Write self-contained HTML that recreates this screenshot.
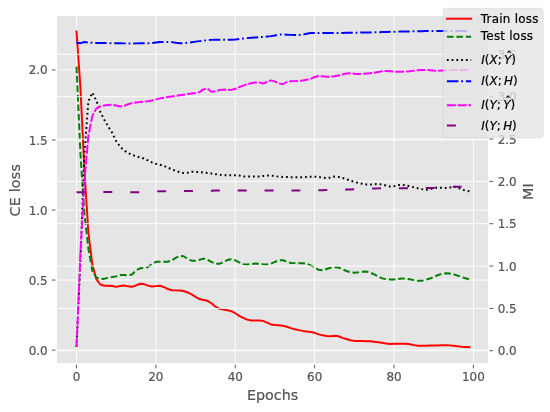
<!DOCTYPE html>
<html><head><meta charset="utf-8"><title>Chart</title>
<style>html,body{margin:0;padding:0;background:#fff;overflow:hidden;width:550px;height:412px}svg{display:block;filter:blur(0.3px)}text{stroke:#000;stroke-width:0.18px;stroke-linejoin:round}</style></head>
<body>
<svg width="550" height="412" preserveAspectRatio="none" viewBox="0 0 460.465116 344.930233" version="1.1">
 
 <defs>
  <style type="text/css">*{stroke-linejoin: round; stroke-linecap: butt}</style>
 </defs>
 <g id="figure_1">
  <g id="patch_1">
   <path d="M 0 344.930233 
L 460.465116 344.930233 
L 460.465116 0 
L 0 0 
z
" style="fill: #ffffff"/>
  </g>
  <g id="axes_1">
   <g id="patch_2">
    <path d="M 47.134884 304.702326 
L 409.227907 304.702326 
L 409.227907 12.893023 
L 47.134884 12.893023 
z
" style="fill: #e5e5e5"/>
   </g>
   <g id="matplotlib.axis_1">
    <g id="xtick_1">
     <g id="line2d_1">
      <path d="M 64.046512 304.702326 
L 64.046512 12.893023 
" clip-path="url(#p52427358c7)" style="fill: none; stroke: #ffffff; stroke-width: 0.8; stroke-linecap: square"/>
     </g>
     <g id="line2d_2">
      
      <g>
       <path d="M 0 0 L 0 3.7" transform="translate(64.046512 304.702326)" style="fill: #555555; stroke: #555555; stroke-width: 0.8"/>
      </g>
     </g>
     <g id="text_1">
      <text style="font-size: 10px; font-family: 'DejaVu Sans', 'Liberation Sans', sans-serif; text-anchor: middle; fill: #555555; stroke: #555555" x="64.046512" y="318.800763" transform="rotate(-0 64.046512 318.800763)">0</text>
     </g>
    </g>
    <g id="xtick_2">
     <g id="line2d_3">
      <path d="M 130.504186 304.702326 
L 130.504186 12.893023 
" clip-path="url(#p52427358c7)" style="fill: none; stroke: #ffffff; stroke-width: 0.8; stroke-linecap: square"/>
     </g>
     <g id="line2d_4">
      <g>
       <path d="M 0 0 L 0 3.7" transform="translate(130.504186 304.702326)" style="fill: #555555; stroke: #555555; stroke-width: 0.8"/>
      </g>
     </g>
     <g id="text_2">
      <text style="font-size: 10px; font-family: 'DejaVu Sans', 'Liberation Sans', sans-serif; text-anchor: middle; fill: #555555; stroke: #555555" x="130.504186" y="318.800763" transform="rotate(-0 130.504186 318.800763)">20</text>
     </g>
    </g>
    <g id="xtick_3">
     <g id="line2d_5">
      <path d="M 196.96186 304.702326 
L 196.96186 12.893023 
" clip-path="url(#p52427358c7)" style="fill: none; stroke: #ffffff; stroke-width: 0.8; stroke-linecap: square"/>
     </g>
     <g id="line2d_6">
      <g>
       <path d="M 0 0 L 0 3.7" transform="translate(196.96186 304.702326)" style="fill: #555555; stroke: #555555; stroke-width: 0.8"/>
      </g>
     </g>
     <g id="text_3">
      <text style="font-size: 10px; font-family: 'DejaVu Sans', 'Liberation Sans', sans-serif; text-anchor: middle; fill: #555555; stroke: #555555" x="196.96186" y="318.800763" transform="rotate(-0 196.96186 318.800763)">40</text>
     </g>
    </g>
    <g id="xtick_4">
     <g id="line2d_7">
      <path d="M 263.419535 304.702326 
L 263.419535 12.893023 
" clip-path="url(#p52427358c7)" style="fill: none; stroke: #ffffff; stroke-width: 0.8; stroke-linecap: square"/>
     </g>
     <g id="line2d_8">
      <g>
       <path d="M 0 0 L 0 3.7" transform="translate(263.419535 304.702326)" style="fill: #555555; stroke: #555555; stroke-width: 0.8"/>
      </g>
     </g>
     <g id="text_4">
      <text style="font-size: 10px; font-family: 'DejaVu Sans', 'Liberation Sans', sans-serif; text-anchor: middle; fill: #555555; stroke: #555555" x="263.419535" y="318.800763" transform="rotate(-0 263.419535 318.800763)">60</text>
     </g>
    </g>
    <g id="xtick_5">
     <g id="line2d_9">
      <path d="M 329.877209 304.702326 
L 329.877209 12.893023 
" clip-path="url(#p52427358c7)" style="fill: none; stroke: #ffffff; stroke-width: 0.8; stroke-linecap: square"/>
     </g>
     <g id="line2d_10">
      <g>
       <path d="M 0 0 L 0 3.7" transform="translate(329.877209 304.702326)" style="fill: #555555; stroke: #555555; stroke-width: 0.8"/>
      </g>
     </g>
     <g id="text_5">
      <text style="font-size: 10px; font-family: 'DejaVu Sans', 'Liberation Sans', sans-serif; text-anchor: middle; fill: #555555; stroke: #555555" x="329.877209" y="318.800763" transform="rotate(-0 329.877209 318.800763)">80</text>
     </g>
    </g>
    <g id="xtick_6">
     <g id="line2d_11">
      <path d="M 396.334884 304.702326 
L 396.334884 12.893023 
" clip-path="url(#p52427358c7)" style="fill: none; stroke: #ffffff; stroke-width: 0.8; stroke-linecap: square"/>
     </g>
     <g id="line2d_12">
      <g>
       <path d="M 0 0 L 0 3.7" transform="translate(396.334884 304.702326)" style="fill: #555555; stroke: #555555; stroke-width: 0.8"/>
      </g>
     </g>
     <g id="text_6">
      <text style="font-size: 10px; font-family: 'DejaVu Sans', 'Liberation Sans', sans-serif; text-anchor: middle; fill: #555555; stroke: #555555" x="396.334884" y="318.800763" transform="rotate(-0 396.334884 318.800763)">100</text>
     </g>
    </g>
    <g id="text_7">
     <text style="font-size: 12px; font-family: 'DejaVu Sans', 'Liberation Sans', sans-serif; text-anchor: middle; fill: #555555; stroke: #555555" x="228.181395" y="335.298576" transform="rotate(-0 228.181395 335.298576)">Epochs</text>
    </g>
   </g>
   <g id="matplotlib.axis_2">
    <g id="ytick_1">
     <g id="line2d_13">
      <path d="M 47.134884 293.106977 
L 409.227907 293.106977 
" clip-path="url(#p52427358c7)" style="fill: none; stroke: #ffffff; stroke-width: 0.8; stroke-linecap: square"/>
     </g>
     <g id="line2d_14">
      
      <g>
       <path d="M 0 0 L -3.7 0" transform="translate(47.134884 293.106977)" style="fill: #555555; stroke: #555555; stroke-width: 0.8"/>
      </g>
     </g>
     <g id="text_8">
      <text style="font-size: 10px; font-family: 'DejaVu Sans', 'Liberation Sans', sans-serif; text-anchor: end; fill: #555555; stroke: #555555" x="39.934884" y="296.906195" transform="rotate(-0 39.934884 296.906195)">0.0</text>
     </g>
    </g>
    <g id="ytick_2">
     <g id="line2d_15">
      <path d="M 47.134884 234.473023 
L 409.227907 234.473023 
" clip-path="url(#p52427358c7)" style="fill: none; stroke: #ffffff; stroke-width: 0.8; stroke-linecap: square"/>
     </g>
     <g id="line2d_16">
      <g>
       <path d="M 0 0 L -3.7 0" transform="translate(47.134884 234.473023)" style="fill: #555555; stroke: #555555; stroke-width: 0.8"/>
      </g>
     </g>
     <g id="text_9">
      <text style="font-size: 10px; font-family: 'DejaVu Sans', 'Liberation Sans', sans-serif; text-anchor: end; fill: #555555; stroke: #555555" x="39.934884" y="238.272242" transform="rotate(-0 39.934884 238.272242)">0.5</text>
     </g>
    </g>
    <g id="ytick_3">
     <g id="line2d_17">
      <path d="M 47.134884 175.83907 
L 409.227907 175.83907 
" clip-path="url(#p52427358c7)" style="fill: none; stroke: #ffffff; stroke-width: 0.8; stroke-linecap: square"/>
     </g>
     <g id="line2d_18">
      <g>
       <path d="M 0 0 L -3.7 0" transform="translate(47.134884 175.83907)" style="fill: #555555; stroke: #555555; stroke-width: 0.8"/>
      </g>
     </g>
     <g id="text_10">
      <text style="font-size: 10px; font-family: 'DejaVu Sans', 'Liberation Sans', sans-serif; text-anchor: end; fill: #555555; stroke: #555555" x="39.934884" y="179.638289" transform="rotate(-0 39.934884 179.638289)">1.0</text>
     </g>
    </g>
    <g id="ytick_4">
     <g id="line2d_19">
      <path d="M 47.134884 117.205116 
L 409.227907 117.205116 
" clip-path="url(#p52427358c7)" style="fill: none; stroke: #ffffff; stroke-width: 0.8; stroke-linecap: square"/>
     </g>
     <g id="line2d_20">
      <g>
       <path d="M 0 0 L -3.7 0" transform="translate(47.134884 117.205116)" style="fill: #555555; stroke: #555555; stroke-width: 0.8"/>
      </g>
     </g>
     <g id="text_11">
      <text style="font-size: 10px; font-family: 'DejaVu Sans', 'Liberation Sans', sans-serif; text-anchor: end; fill: #555555; stroke: #555555" x="39.934884" y="121.004335" transform="rotate(-0 39.934884 121.004335)">1.5</text>
     </g>
    </g>
    <g id="ytick_5">
     <g id="line2d_21">
      <path d="M 47.134884 58.571163 
L 409.227907 58.571163 
" clip-path="url(#p52427358c7)" style="fill: none; stroke: #ffffff; stroke-width: 0.8; stroke-linecap: square"/>
     </g>
     <g id="line2d_22">
      <g>
       <path d="M 0 0 L -3.7 0" transform="translate(47.134884 58.571163)" style="fill: #555555; stroke: #555555; stroke-width: 0.8"/>
      </g>
     </g>
     <g id="text_12">
      <text style="font-size: 10px; font-family: 'DejaVu Sans', 'Liberation Sans', sans-serif; text-anchor: end; fill: #555555; stroke: #555555" x="39.934884" y="62.370382" transform="rotate(-0 39.934884 62.370382)">2.0</text>
     </g>
    </g>
    <g id="text_13">
     <text style="font-size: 12px; font-family: 'DejaVu Sans', 'Liberation Sans', sans-serif; text-anchor: middle; fill: #555555; stroke: #555555; letter-spacing: 0.15px" x="16.836134" y="159.216279" transform="rotate(-90 16.836134 159.216279)">CE loss</text>
    </g>
   </g>
   <g id="line2d_23">
    <path d="M 64.046512 26.372093 
L 67.369395 73.616559 
L 70.692279 142.800366 
L 74.015163 194.991136 
L 77.338047 221.739343 
L 80.66093 233.764087 
L 83.983814 238.167949 
L 87.306698 239.192925 
L 90.629581 239.24081 
L 93.952465 239.508898 
L 97.275349 240.193033 
L 100.598233 239.478726 
L 103.921116 238.95644 
L 107.244 239.724233 
L 110.566884 240.14735 
L 113.889767 238.883702 
L 117.212651 237.528495 
L 120.535535 237.849665 
L 123.858419 239.101487 
L 127.181302 239.859982 
L 130.504186 239.55819 
L 133.82707 239.27881 
L 137.149953 240.262729 
L 140.472837 241.973265 
L 143.795721 242.967216 
L 147.118605 243.105623 
L 150.441488 243.205148 
L 153.764372 243.612074 
L 157.087256 244.849126 
L 160.41014 246.403627 
L 163.733023 248.584063 
L 167.055907 250.336229 
L 170.378791 251.096476 
L 173.701674 251.854395 
L 177.024558 253.888171 
L 180.347442 256.728995 
L 183.670326 258.474719 
L 186.993209 259.165414 
L 190.316093 259.683049 
L 193.638977 260.479611 
L 196.96186 262.25942 
L 200.284744 264.494017 
L 203.607628 266.159606 
L 206.930512 267.589588 
L 210.253395 268.3221 
L 213.576279 268.325581 
L 216.899163 268.325581 
L 220.222047 268.626355 
L 223.54493 270.152456 
L 226.867814 271.609579 
L 230.190698 272.074558 
L 233.513581 272.333237 
L 236.836465 272.703872 
L 240.159349 273.580834 
L 243.482233 274.750198 
L 246.805116 275.679924 
L 250.128 276.408255 
L 253.450884 277.037054 
L 256.773767 277.535733 
L 260.096651 277.930507 
L 263.419535 278.645945 
L 266.742419 279.908145 
L 270.065302 280.749985 
L 273.388186 281.338868 
L 276.71107 281.541054 
L 280.033953 281.096172 
L 283.356837 281.524905 
L 286.679721 282.825544 
L 290.002605 283.852023 
L 293.325488 284.844491 
L 296.648372 285.397891 
L 299.971256 285.497405 
L 303.29414 285.547102 
L 306.617023 285.605712 
L 309.939907 285.74899 
L 313.262791 286.072091 
L 316.585674 286.479423 
L 319.908558 286.985181 
L 323.231442 287.611814 
L 326.554326 287.916269 
L 329.877209 287.863418 
L 333.200093 287.758096 
L 336.522977 287.675216 
L 339.84586 287.765839 
L 343.168744 288.271058 
L 346.491628 288.926568 
L 349.814512 289.419079 
L 353.137395 289.497955 
L 356.460279 289.430402 
L 359.783163 289.334132 
L 363.106047 289.254189 
L 366.42893 289.190525 
L 369.751814 289.1302 
L 373.074698 289.092664 
L 376.397581 289.148949 
L 379.720465 289.463569 
L 383.043349 289.881489 
L 386.366233 290.215986 
L 389.689116 290.461112 
L 393.012 290.675613 
" clip-path="url(#p52427358c7)" style="fill: none; stroke: #ff0000; stroke-width: 1.65; stroke-linecap: square"/>
   </g>
   <g id="line2d_24">
    <path d="M 64.046512 55.674419 
L 67.369395 129.1337 
L 70.692279 179.172471 
L 74.015163 208.160651 
L 77.338047 226.932285 
L 80.66093 232.368251 
L 83.983814 233.716705 
L 87.306698 233.435835 
L 90.629581 232.347885 
L 93.952465 231.942603 
L 97.275349 231.387151 
L 100.598233 230.279394 
L 103.921116 230.222047 
L 107.244 230.434478 
L 110.566884 229.835554 
L 113.889767 226.317551 
L 117.212651 224.606513 
L 120.535535 224.409804 
L 123.858419 223.479599 
L 127.181302 220.952145 
L 130.504186 219.212671 
L 133.82707 219.181395 
L 137.149953 219.181395 
L 140.472837 219.163787 
L 143.795721 217.988329 
L 147.118605 215.921408 
L 150.441488 214.30123 
L 153.764372 214.583533 
L 157.087256 216.891401 
L 160.41014 218.270504 
L 163.733023 218.343776 
L 167.055907 217.427008 
L 170.378791 216.503033 
L 173.701674 217.3999 
L 177.024558 219.303255 
L 180.347442 220.869448 
L 183.670326 220.847517 
L 186.993209 219.392444 
L 190.316093 217.707079 
L 193.638977 217.013707 
L 196.96186 217.928486 
L 200.284744 219.638375 
L 203.607628 221.138345 
L 206.930512 221.491145 
L 210.253395 221.092223 
L 213.576279 220.664534 
L 216.899163 220.735191 
L 220.222047 221.266502 
L 223.54493 221.506872 
L 226.867814 220.667393 
L 230.190698 219.19827 
L 233.513581 217.955637 
L 236.836465 217.832818 
L 240.159349 219.159986 
L 243.482233 220.18294 
L 246.805116 220.27832 
L 250.128 220.319692 
L 253.450884 220.382584 
L 256.773767 220.774566 
L 260.096651 222.171306 
L 263.419535 223.834278 
L 266.742419 225.890458 
L 270.065302 226.248364 
L 273.388186 225.252411 
L 276.71107 224.202711 
L 280.033953 223.854182 
L 283.356837 223.943851 
L 286.679721 225.229983 
L 290.002605 226.88235 
L 293.325488 227.854345 
L 296.648372 228.305899 
L 299.971256 228.007195 
L 303.29414 227.445266 
L 306.617023 227.251946 
L 309.939907 228.256529 
L 313.262791 229.673777 
L 316.585674 231.419207 
L 319.908558 233.080884 
L 323.231442 233.711561 
L 326.554326 233.947447 
L 329.877209 233.96614 
L 333.200093 233.599939 
L 336.522977 233.214063 
L 339.84586 233.27267 
L 343.168744 233.823818 
L 346.491628 234.53892 
L 349.814512 235.076204 
L 353.137395 235.06777 
L 356.460279 234.292853 
L 359.783163 233.208833 
L 363.106047 232.026804 
L 366.42893 230.453679 
L 369.751814 229.159469 
L 373.074698 228.818169 
L 376.397581 228.956324 
L 379.720465 229.545704 
L 383.043349 230.729303 
L 386.366233 231.892885 
L 389.689116 232.929317 
L 393.012 233.98158 
" clip-path="url(#p52427358c7)" style="fill: none; stroke-dasharray: 5.55,2.4; stroke-dashoffset: 0; stroke: #008000; stroke-width: 1.65"/>
   </g>
   <g id="patch_3">
    <path d="M 47.134884 304.702326 
L 47.134884 12.893023 
" style="fill: none; stroke: #ffffff; stroke-linejoin: miter; stroke-linecap: square"/>
   </g>
   <g id="patch_4">
    <path d="M 409.227907 304.702326 
L 409.227907 12.893023 
" style="fill: none; stroke: #ffffff; stroke-linejoin: miter; stroke-linecap: square"/>
   </g>
   <g id="patch_5">
    <path d="M 47.134884 304.702326 
L 409.227907 304.702326 
" style="fill: none; stroke: #ffffff; stroke-linejoin: miter; stroke-linecap: square"/>
   </g>
   <g id="patch_6">
    <path d="M 47.134884 12.893023 
L 409.227907 12.893023 
" style="fill: none; stroke: #ffffff; stroke-linejoin: miter; stroke-linecap: square"/>
   </g>
  </g>
  <g id="axes_2">
   <g id="matplotlib.axis_3">
    <g id="ytick_6">
     <g id="line2d_25">
      <path d="M 47.134884 293.651163 
L 409.227907 293.651163 
" clip-path="url(#p52427358c7)" style="fill: none; stroke: #ffffff; stroke-width: 0.8; stroke-linecap: square"/>
     </g>
     <g id="line2d_26">
      
      <g>
       <path d="M 0 0 L 3.7 0" transform="translate(409.227907 293.651163)" style="fill: #555555; stroke: #555555; stroke-width: 0.8"/>
      </g>
     </g>
     <g id="text_14">
      <text style="font-size: 10px; font-family: 'DejaVu Sans', 'Liberation Sans', sans-serif; text-anchor: start; fill: #555555; stroke: #555555" x="416.677907" y="297.450382" transform="rotate(-0 416.677907 297.450382)">0.0</text>
     </g>
    </g>
    <g id="ytick_7">
     <g id="line2d_27">
      <path d="M 47.134884 258.199535 
L 409.227907 258.199535 
" clip-path="url(#p52427358c7)" style="fill: none; stroke: #ffffff; stroke-width: 0.8; stroke-linecap: square"/>
     </g>
     <g id="line2d_28">
      <g>
       <path d="M 0 0 L 3.7 0" transform="translate(409.227907 258.199535)" style="fill: #555555; stroke: #555555; stroke-width: 0.8"/>
      </g>
     </g>
     <g id="text_15">
      <text style="font-size: 10px; font-family: 'DejaVu Sans', 'Liberation Sans', sans-serif; text-anchor: start; fill: #555555; stroke: #555555" x="416.677907" y="261.998754" transform="rotate(-0 416.677907 261.998754)">0.5</text>
     </g>
    </g>
    <g id="ytick_8">
     <g id="line2d_29">
      <path d="M 47.134884 222.747907 
L 409.227907 222.747907 
" clip-path="url(#p52427358c7)" style="fill: none; stroke: #ffffff; stroke-width: 0.8; stroke-linecap: square"/>
     </g>
     <g id="line2d_30">
      <g>
       <path d="M 0 0 L 3.7 0" transform="translate(409.227907 222.747907)" style="fill: #555555; stroke: #555555; stroke-width: 0.8"/>
      </g>
     </g>
     <g id="text_16">
      <text style="font-size: 10px; font-family: 'DejaVu Sans', 'Liberation Sans', sans-serif; text-anchor: start; fill: #555555; stroke: #555555" x="416.677907" y="226.547126" transform="rotate(-0 416.677907 226.547126)">1.0</text>
     </g>
    </g>
    <g id="ytick_9">
     <g id="line2d_31">
      <path d="M 47.134884 187.296279 
L 409.227907 187.296279 
" clip-path="url(#p52427358c7)" style="fill: none; stroke: #ffffff; stroke-width: 0.8; stroke-linecap: square"/>
     </g>
     <g id="line2d_32">
      <g>
       <path d="M 0 0 L 3.7 0" transform="translate(409.227907 187.296279)" style="fill: #555555; stroke: #555555; stroke-width: 0.8"/>
      </g>
     </g>
     <g id="text_17">
      <text style="font-size: 10px; font-family: 'DejaVu Sans', 'Liberation Sans', sans-serif; text-anchor: start; fill: #555555; stroke: #555555" x="416.677907" y="191.095498" transform="rotate(-0 416.677907 191.095498)">1.5</text>
     </g>
    </g>
    <g id="ytick_10">
     <g id="line2d_33">
      <path d="M 47.134884 151.844651 
L 409.227907 151.844651 
" clip-path="url(#p52427358c7)" style="fill: none; stroke: #ffffff; stroke-width: 0.8; stroke-linecap: square"/>
     </g>
     <g id="line2d_34">
      <g>
       <path d="M 0 0 L 3.7 0" transform="translate(409.227907 151.844651)" style="fill: #555555; stroke: #555555; stroke-width: 0.8"/>
      </g>
     </g>
     <g id="text_18">
      <text style="font-size: 10px; font-family: 'DejaVu Sans', 'Liberation Sans', sans-serif; text-anchor: start; fill: #555555; stroke: #555555" x="416.677907" y="155.64387" transform="rotate(-0 416.677907 155.64387)">2.0</text>
     </g>
    </g>
    <g id="ytick_11">
     <g id="line2d_35">
      <path d="M 47.134884 116.393023 
L 409.227907 116.393023 
" clip-path="url(#p52427358c7)" style="fill: none; stroke: #ffffff; stroke-width: 0.8; stroke-linecap: square"/>
     </g>
     <g id="line2d_36">
      <g>
       <path d="M 0 0 L 3.7 0" transform="translate(409.227907 116.393023)" style="fill: #555555; stroke: #555555; stroke-width: 0.8"/>
      </g>
     </g>
     <g id="text_19">
      <text style="font-size: 10px; font-family: 'DejaVu Sans', 'Liberation Sans', sans-serif; text-anchor: start; fill: #555555; stroke: #555555" x="416.677907" y="120.192242" transform="rotate(-0 416.677907 120.192242)">2.5</text>
     </g>
    </g>
    <g id="ytick_12">
     <g id="line2d_37">
      <path d="M 47.134884 80.941395 
L 409.227907 80.941395 
" clip-path="url(#p52427358c7)" style="fill: none; stroke: #ffffff; stroke-width: 0.8; stroke-linecap: square"/>
     </g>
     <g id="line2d_38">
      <g>
       <path d="M 0 0 L 3.7 0" transform="translate(409.227907 80.941395)" style="fill: #555555; stroke: #555555; stroke-width: 0.8"/>
      </g>
     </g>
     <g id="text_20">
      <text style="font-size: 10px; font-family: 'DejaVu Sans', 'Liberation Sans', sans-serif; text-anchor: start; fill: #555555; stroke: #555555" x="416.677907" y="84.740614" transform="rotate(-0 416.677907 84.740614)">3.0</text>
     </g>
    </g>
    <g id="ytick_13">
     <g id="line2d_39">
      <path d="M 47.134884 45.489767 
L 409.227907 45.489767 
" clip-path="url(#p52427358c7)" style="fill: none; stroke: #ffffff; stroke-width: 0.8; stroke-linecap: square"/>
     </g>
     <g id="line2d_40">
      <g>
       <path d="M 0 0 L 3.7 0" transform="translate(409.227907 45.489767)" style="fill: #555555; stroke: #555555; stroke-width: 0.8"/>
      </g>
     </g>
     <g id="text_21">
      <text style="font-size: 10px; font-family: 'DejaVu Sans', 'Liberation Sans', sans-serif; text-anchor: start; fill: #555555; stroke: #555555" x="416.677907" y="49.288986" transform="rotate(-0 416.677907 49.288986)">3.5</text>
     </g>
    </g>
    <g id="text_22">
     <text style="font-size: 12px; font-family: 'DejaVu Sans', 'Liberation Sans', sans-serif; text-anchor: middle; fill: #555555; stroke: #555555" x="446.109157" y="160.472093" transform="rotate(-90 446.109157 160.472093)">MI</text>
    </g>
   </g>
   <g id="line2d_41">
    <path d="M 64.046512 290.511628 
L 67.369395 217.134101 
L 70.692279 128.340261 
L 74.015163 84.659926 
L 77.338047 77.536282 
L 80.66093 84.224254 
L 83.983814 93.662575 
L 87.306698 100.223313 
L 90.629581 105.944871 
L 93.952465 111.292433 
L 97.275349 118.086631 
L 100.598233 122.919017 
L 103.921116 125.938593 
L 107.244 128.081515 
L 110.566884 129.678012 
L 113.889767 130.857902 
L 117.212651 131.73055 
L 120.535535 132.704923 
L 123.858419 134.282522 
L 127.181302 136.035755 
L 130.504186 137.11169 
L 133.82707 137.926753 
L 137.149953 138.87112 
L 140.472837 140.255644 
L 143.795721 141.78455 
L 147.118605 143.000686 
L 150.441488 144.130604 
L 153.764372 144.90725 
L 157.087256 144.582231 
L 160.41014 143.835344 
L 163.733023 143.942455 
L 167.055907 144.161602 
L 170.378791 144.43322 
L 173.701674 144.777384 
L 177.024558 145.281238 
L 180.347442 145.801142 
L 183.670326 146.199221 
L 186.993209 146.565533 
L 190.316093 146.816603 
L 193.638977 146.794236 
L 196.96186 146.620855 
L 200.284744 146.937169 
L 203.607628 147.755637 
L 206.930512 147.767442 
L 210.253395 147.767442 
L 213.576279 147.767442 
L 216.899163 147.714688 
L 220.222047 147.347353 
L 223.54493 146.945792 
L 226.867814 146.908683 
L 230.190698 147.449017 
L 233.513581 147.930998 
L 236.836465 148.101695 
L 240.159349 148.244107 
L 243.482233 148.351804 
L 246.805116 148.41819 
L 250.128 148.435447 
L 253.450884 148.34227 
L 256.773767 148.169785 
L 260.096651 148.005018 
L 263.419535 147.935248 
L 266.742419 148.187948 
L 270.065302 148.676833 
L 273.388186 149.059904 
L 276.71107 148.746663 
L 280.033953 147.789328 
L 283.356837 148.106968 
L 286.679721 148.867795 
L 290.002605 150.050248 
L 293.325488 151.207992 
L 296.648372 152.233055 
L 299.971256 153.160826 
L 303.29414 153.839359 
L 306.617023 154.393477 
L 309.939907 154.527473 
L 313.262791 154.272466 
L 316.585674 154.051274 
L 319.908558 154.412782 
L 323.231442 155.341141 
L 326.554326 156.117213 
L 329.877209 155.96539 
L 333.200093 154.953593 
L 336.522977 154.701458 
L 339.84586 155.295125 
L 343.168744 155.977838 
L 346.491628 156.808887 
L 349.814512 157.640041 
L 353.137395 158.352654 
L 356.460279 158.953459 
L 359.783163 158.478212 
L 363.106047 157.341806 
L 366.42893 157.161585 
L 369.751814 157.243903 
L 373.074698 157.30916 
L 376.397581 156.980654 
L 379.720465 156.314036 
L 383.043349 156.839704 
L 386.366233 158.622794 
L 389.689116 159.54967 
L 393.012 160.151814 
" clip-path="url(#p52427358c7)" style="fill: none; stroke-dasharray: 1.5,2.475; stroke-dashoffset: 0; stroke: #000000; stroke-width: 1.65"/>
   </g>
   <g id="line2d_42">
    <path d="M 64.046512 35.832558 
L 67.369395 36.129246 
L 70.692279 35.177359 
L 74.015163 35.685424 
L 77.338047 35.839248 
L 80.66093 35.935245 
L 83.983814 36.005332 
L 87.306698 36.071992 
L 90.629581 36.135741 
L 93.952465 36.194353 
L 97.275349 36.245604 
L 100.598233 36.287267 
L 103.921116 36.317119 
L 107.244 36.332933 
L 110.566884 36.333019 
L 113.889767 36.319118 
L 117.212651 36.291968 
L 120.535535 36.251952 
L 123.858419 36.199452 
L 127.181302 36.077055 
L 130.504186 35.6552 
L 133.82707 35.242889 
L 137.149953 35.162791 
L 140.472837 35.162791 
L 143.795721 35.251685 
L 147.118605 35.824508 
L 150.441488 36.248168 
L 153.764372 36.128461 
L 157.087256 35.782932 
L 160.41014 35.318175 
L 163.733023 34.838748 
L 167.055907 34.446286 
L 170.378791 34.052803 
L 173.701674 33.657731 
L 177.024558 33.380827 
L 180.347442 33.32093 
L 183.670326 33.32093 
L 186.993209 33.32093 
L 190.316093 33.32093 
L 193.638977 33.248992 
L 196.96186 33.007994 
L 200.284744 32.661181 
L 203.607628 32.275174 
L 206.930512 31.916594 
L 210.253395 31.63176 
L 213.576279 31.380074 
L 216.899163 31.13655 
L 220.222047 30.879742 
L 223.54493 30.5882 
L 226.867814 30.240476 
L 230.190698 29.66285 
L 233.513581 28.973556 
L 236.836465 28.909229 
L 240.159349 29.034418 
L 243.482233 29.202007 
L 246.805116 29.341672 
L 250.128 29.371725 
L 253.450884 28.941101 
L 256.773767 28.235891 
L 260.096651 27.69786 
L 263.419535 27.627907 
L 266.742419 27.627907 
L 270.065302 27.627907 
L 273.388186 27.627907 
L 276.71107 27.627765 
L 280.033953 27.617652 
L 283.356837 27.593034 
L 286.679721 27.555981 
L 290.002605 27.508562 
L 293.325488 27.452846 
L 296.648372 27.390903 
L 299.971256 27.3248 
L 303.29414 27.256608 
L 306.617023 27.188395 
L 309.939907 27.1222 
L 313.262791 27.048022 
L 316.585674 26.960125 
L 319.908558 26.863539 
L 323.231442 26.763294 
L 326.554326 26.66442 
L 329.877209 26.571948 
L 333.200093 26.490908 
L 336.522977 26.423468 
L 339.84586 26.355931 
L 343.168744 26.287472 
L 346.491628 26.220163 
L 349.814512 26.156072 
L 353.137395 26.097267 
L 356.460279 26.045819 
L 359.783163 26.003795 
L 363.106047 25.973266 
L 366.42893 25.956299 
L 369.751814 25.953488 
L 373.074698 25.953488 
L 376.397581 25.953488 
L 379.720465 25.953488 
L 383.043349 25.953488 
L 386.366233 25.953488 
L 389.689116 25.953488 
L 393.012 25.953488 
" clip-path="url(#p52427358c7)" style="fill: none; stroke-dasharray: 9.6,2.4,1.5,2.4; stroke-dashoffset: 0; stroke: #0000ff; stroke-width: 1.65"/>
   </g>
   <g id="line2d_43">
    <path d="M 64.046512 290.511628 
L 67.369395 211.418774 
L 70.692279 151.432682 
L 74.015163 113.593328 
L 77.338047 97.064451 
L 80.66093 90.865887 
L 83.983814 89.043354 
L 87.306698 88.372192 
L 90.629581 87.922939 
L 93.952465 87.658408 
L 97.275349 88.269438 
L 100.598233 89.136605 
L 103.921116 88.633371 
L 107.244 87.296121 
L 110.566884 86.318606 
L 113.889767 85.867703 
L 117.212651 85.497101 
L 120.535535 85.10129 
L 123.858419 84.701431 
L 127.181302 84.133966 
L 130.504186 83.224616 
L 133.82707 82.373236 
L 137.149953 81.780104 
L 140.472837 81.270708 
L 143.795721 80.770343 
L 147.118605 80.262446 
L 150.441488 79.764496 
L 153.764372 79.262845 
L 157.087256 78.743927 
L 160.41014 78.275153 
L 163.733023 77.897131 
L 167.055907 77.101288 
L 170.378791 74.834997 
L 173.701674 74.228764 
L 177.024558 76.819687 
L 180.347442 76.38242 
L 183.670326 75.421628 
L 186.993209 75.018478 
L 190.316093 75.163388 
L 193.638977 75.255038 
L 196.96186 74.319958 
L 200.284744 72.937386 
L 203.607628 71.639312 
L 206.930512 70.520091 
L 210.253395 69.71833 
L 213.576279 69.088348 
L 216.899163 68.97863 
L 220.222047 69.958347 
L 223.54493 68.644071 
L 226.867814 67.332252 
L 230.190698 68.295571 
L 233.513581 69.775979 
L 236.836465 70.485848 
L 240.159349 68.641247 
L 243.482233 68.054283 
L 246.805116 67.918133 
L 250.128 67.746348 
L 253.450884 67.357831 
L 256.773767 66.757396 
L 260.096651 65.978727 
L 263.419535 64.462188 
L 266.742419 63.630716 
L 270.065302 63.868856 
L 273.388186 64.209714 
L 276.71107 64.253083 
L 280.033953 63.8261 
L 283.356837 63.229899 
L 286.679721 62.405671 
L 290.002605 61.517571 
L 293.325488 61.331841 
L 296.648372 61.757585 
L 299.971256 61.948016 
L 303.29414 61.832925 
L 306.617023 61.611125 
L 309.939907 61.339168 
L 313.262791 60.933995 
L 316.585674 60.292158 
L 319.908558 59.696954 
L 323.231442 59.441954 
L 326.554326 59.619311 
L 329.877209 59.939471 
L 333.200093 60.111626 
L 336.522977 60.040916 
L 339.84586 59.865332 
L 343.168744 59.625966 
L 346.491628 59.123481 
L 349.814512 58.746431 
L 353.137395 58.582587 
L 356.460279 58.523176 
L 359.783163 58.751527 
L 363.106047 59.090126 
L 366.42893 59.184052 
L 369.751814 59.092941 
L 373.074698 58.932759 
L 376.397581 58.752008 
L 379.720465 58.599195 
L 383.043349 58.522822 
L 386.366233 58.524226 
L 389.689116 58.546153 
L 393.012 58.60325 
" clip-path="url(#p52427358c7)" style="fill: none; stroke-dasharray: 7.5,1.5; stroke-dashoffset: 0; stroke: #ff00ff; stroke-width: 1.65"/>
   </g>
   <g id="line2d_44">
    <path d="M 64.046512 160.995349 
L 67.369395 160.931498 
L 70.692279 160.878641 
L 74.015163 160.835925 
L 77.338047 160.8025 
L 80.66093 160.777511 
L 83.983814 160.760108 
L 87.306698 160.749438 
L 90.629581 160.74465 
L 93.952465 160.749781 
L 97.275349 160.782754 
L 100.598233 160.834902 
L 103.921116 160.894162 
L 107.244 160.948476 
L 110.566884 160.985783 
L 113.889767 160.99175 
L 117.212651 160.919611 
L 120.535535 160.778749 
L 123.858419 160.600779 
L 127.181302 160.417316 
L 130.504186 160.259973 
L 133.82707 160.160365 
L 137.149953 160.109349 
L 140.472837 160.068905 
L 143.795721 160.03573 
L 147.118605 160.006577 
L 150.441488 159.978197 
L 153.764372 159.947345 
L 157.087256 159.910772 
L 160.41014 159.866118 
L 163.733023 159.815146 
L 167.055907 159.760801 
L 170.378791 159.706026 
L 173.701674 159.653765 
L 177.024558 159.606961 
L 180.347442 159.568479 
L 183.670326 159.532619 
L 186.993209 159.496414 
L 190.316093 159.462702 
L 193.638977 159.434323 
L 196.96186 159.414115 
L 200.284744 159.404919 
L 203.607628 159.404651 
L 206.930512 159.404651 
L 210.253395 159.404651 
L 213.576279 159.404651 
L 216.899163 159.404651 
L 220.222047 159.404651 
L 223.54493 159.404651 
L 226.867814 159.404651 
L 230.190698 159.404651 
L 233.513581 159.404651 
L 236.836465 159.404651 
L 240.159349 159.404651 
L 243.482233 159.404651 
L 246.805116 159.404651 
L 250.128 159.399139 
L 253.450884 159.382739 
L 256.773767 159.357575 
L 260.096651 159.325787 
L 263.419535 159.289516 
L 266.742419 159.2509 
L 270.065302 159.208852 
L 273.388186 159.154209 
L 276.71107 159.087821 
L 280.033953 159.011473 
L 283.356837 158.926948 
L 286.679721 158.836029 
L 290.002605 158.740501 
L 293.325488 158.641955 
L 296.648372 158.517982 
L 299.971256 158.363866 
L 303.29414 158.196153 
L 306.617023 158.031391 
L 309.939907 157.886125 
L 313.262791 157.776904 
L 316.585674 157.717965 
L 319.908558 157.68143 
L 323.231442 157.652409 
L 326.554326 157.62848 
L 329.877209 157.607225 
L 333.200093 157.586223 
L 336.522977 157.563056 
L 339.84586 157.540374 
L 343.168744 157.521152 
L 346.491628 157.503136 
L 349.814512 157.48407 
L 353.137395 157.461697 
L 356.460279 157.433761 
L 359.783163 157.398008 
L 363.106047 157.315086 
L 366.42893 157.157085 
L 369.751814 156.956769 
L 373.074698 156.747106 
L 376.397581 156.561067 
L 379.720465 156.431622 
L 383.043349 156.390937 
L 386.366233 156.409622 
L 389.689116 156.462586 
L 393.012 156.556117 
" clip-path="url(#p52427358c7)" style="fill: none; stroke-dasharray: 7.5,15; stroke-dashoffset: 0; stroke: #800080; stroke-width: 1.65"/>
   </g>
   <g id="patch_7">
    <path d="M 47.134884 304.702326 
L 47.134884 12.893023 
" style="fill: none; stroke: #ffffff; stroke-linejoin: miter; stroke-linecap: square"/>
   </g>
   <g id="patch_8">
    <path d="M 409.227907 304.702326 
L 409.227907 12.893023 
" style="fill: none; stroke: #ffffff; stroke-linejoin: miter; stroke-linecap: square"/>
   </g>
   <g id="patch_9">
    <path d="M 47.134884 304.702326 
L 409.227907 304.702326 
" style="fill: none; stroke: #ffffff; stroke-linejoin: miter; stroke-linecap: square"/>
   </g>
   <g id="patch_10">
    <path d="M 47.134884 12.893023 
L 409.227907 12.893023 
" style="fill: none; stroke: #ffffff; stroke-linejoin: miter; stroke-linecap: square"/>
   </g>
  </g>
  <g id="axes_3">
   <g id="patch_11">
    <path d="M 373.144186 6.948837 
L 452.762791 6.948837 
Q 454.772093 6.948837 454.772093 8.95814 
L 454.772093 113.35814 
Q 454.772093 115.367442 452.762791 115.367442 
L 373.144186 115.367442 
Q 371.134884 115.367442 371.134884 113.35814 
L 371.134884 8.95814 
Q 371.134884 6.948837 373.144186 6.948837 
z
" clip-path="url(#pfc388032bf)" style="fill: #e5e5e5; opacity: 0.8; stroke: #cccccc; stroke-width: 0.5; stroke-linejoin: miter"/>
   </g>
   <g id="line2d_45">
    <path d="M 374.148837 15.655814 
L 394.493023 15.655814 
" clip-path="url(#pfc388032bf)" style="fill: none; stroke: #ff0000; stroke-width: 1.65; stroke-linecap: square"/>
   </g>
   <g id="line2d_46">
    <path d="M 374.148837 30.725581 
L 394.493023 30.725581 
" clip-path="url(#pfc388032bf)" style="fill: none; stroke-dasharray: 5.55,2.4; stroke-dashoffset: 0; stroke: #008000; stroke-width: 1.65"/>
   </g>
   <g id="line2d_47">
    <path d="M 374.148837 50.148837 
L 394.493023 50.148837 
" clip-path="url(#pfc388032bf)" style="fill: none; stroke-dasharray: 1.5,2.475; stroke-dashoffset: 0; stroke: #000000; stroke-width: 1.65"/>
   </g>
   <g id="line2d_48">
    <path d="M 374.148837 67.981395 
L 394.493023 67.981395 
" clip-path="url(#pfc388032bf)" style="fill: none; stroke-dasharray: 9.6,2.4,1.5,2.4; stroke-dashoffset: 0; stroke: #0000ff; stroke-width: 1.65"/>
   </g>
   <g id="line2d_49">
    <path d="M 374.148837 88.074419 
L 394.493023 88.074419 
" clip-path="url(#pfc388032bf)" style="fill: none; stroke-dasharray: 7.5,1.5; stroke-dashoffset: 0; stroke: #ff00ff; stroke-width: 1.65"/>
   </g>
   <g id="line2d_50">
    <path d="M 374.148837 105.069767 
L 394.493023 105.069767 
" clip-path="url(#pfc388032bf)" style="fill: none; stroke-dasharray: 7.5,15; stroke-dashoffset: 0; stroke: #800080; stroke-width: 1.65"/>
   </g>
   <g id="text_23">
    <text style="font-size: 10px; font-family: 'DejaVu Sans', 'Liberation Sans', sans-serif; text-anchor: start; letter-spacing: 0.2px" x="402.530233" y="19.088372" transform="rotate(-0 402.530233 19.088372)">Train loss</text>
   </g>
   <g id="text_24">
    <text style="font-size: 10px; font-family: 'DejaVu Sans', 'Liberation Sans', sans-serif; text-anchor: start; letter-spacing: 0.2px" x="402.530233" y="33.488372" transform="rotate(-0 402.530233 33.488372)">Test loss</text>
   </g>
   <g id="text_25">
    
    <g transform="translate(402.948837 53.916279)">
     <text>
      <tspan x="0" y="-0.046875" style="font-style: oblique; font-size: 10px; font-family: 'DejaVu Sans', sans-serif">I</tspan>
      <tspan x="6.850586" y="-0.046875" style="font-style: oblique; font-size: 10px; font-family: 'DejaVu Sans', sans-serif">X</tspan>
      <tspan x="19.018555" y="-0.046875" style="font-style: oblique; font-size: 10px; font-family: 'DejaVu Sans', sans-serif">Y</tspan>
      <tspan x="2.949219" y="-0.046875" style="font-size: 10px; font-family: 'DejaVu Sans', sans-serif">(</tspan>
      <tspan x="13.701172" y="-0.046875" style="font-size: 10px; font-family: 'DejaVu Sans', sans-serif">;</tspan>
      <tspan x="25.126953" y="-0.046875" style="font-size: 10px; font-family: 'DejaVu Sans', sans-serif">)</tspan>
      <tspan x="25.608154" y="-3" style="font-size: 10px; font-family: 'DejaVu Sans', sans-serif">̂</tspan>
     </text>
    </g>
   </g>
   <g id="text_26">
    
    <g transform="translate(402.948837 71.665116)">
     <text>
      <tspan x="0" y="-0.40625" style="font-style: oblique; font-size: 10px; font-family: 'DejaVu Sans', sans-serif">I</tspan>
      <tspan x="6.850586" y="-0.40625" style="font-style: oblique; font-size: 10px; font-family: 'DejaVu Sans', sans-serif">X</tspan>
      <tspan x="19.018555" y="-0.40625" style="font-style: oblique; font-size: 10px; font-family: 'DejaVu Sans', sans-serif">H</tspan>
      <tspan x="2.949219" y="-0.40625" style="font-size: 10px; font-family: 'DejaVu Sans', sans-serif">(</tspan>
      <tspan x="13.701172" y="-0.40625" style="font-size: 10px; font-family: 'DejaVu Sans', sans-serif">;</tspan>
      <tspan x="26.538086" y="-0.40625" style="font-size: 10px; font-family: 'DejaVu Sans', sans-serif">)</tspan>
     </text>
    </g>
   </g>
   <g id="text_27">
    
    <g transform="translate(402.948837 91.506977)">
     <text>
      <tspan x="0" y="-0.046875" style="font-style: oblique; font-size: 10px; font-family: 'DejaVu Sans', sans-serif">I</tspan>
      <tspan x="6.850586" y="-0.046875" style="font-style: oblique; font-size: 10px; font-family: 'DejaVu Sans', sans-serif">Y</tspan>
      <tspan x="18.276367" y="-0.046875" style="font-style: oblique; font-size: 10px; font-family: 'DejaVu Sans', sans-serif">Y</tspan>
      <tspan x="2.949219" y="-0.046875" style="font-size: 10px; font-family: 'DejaVu Sans', sans-serif">(</tspan>
      <tspan x="12.958984" y="-0.046875" style="font-size: 10px; font-family: 'DejaVu Sans', sans-serif">;</tspan>
      <tspan x="24.384766" y="-0.046875" style="font-size: 10px; font-family: 'DejaVu Sans', sans-serif">)</tspan>
      <tspan x="24.865967" y="-3" style="font-size: 10px; font-family: 'DejaVu Sans', sans-serif">̂</tspan>
     </text>
    </g>
   </g>
   <g id="text_28">
    
    <g transform="translate(402.948837 109.088372)">
     <text>
      <tspan x="0" y="-0.40625" style="font-style: oblique; font-size: 10px; font-family: 'DejaVu Sans', sans-serif">I</tspan>
      <tspan x="6.850586" y="-0.40625" style="font-style: oblique; font-size: 10px; font-family: 'DejaVu Sans', sans-serif">Y</tspan>
      <tspan x="18.276367" y="-0.40625" style="font-style: oblique; font-size: 10px; font-family: 'DejaVu Sans', sans-serif">H</tspan>
      <tspan x="2.949219" y="-0.40625" style="font-size: 10px; font-family: 'DejaVu Sans', sans-serif">(</tspan>
      <tspan x="12.958984" y="-0.40625" style="font-size: 10px; font-family: 'DejaVu Sans', sans-serif">;</tspan>
      <tspan x="25.795898" y="-0.40625" style="font-size: 10px; font-family: 'DejaVu Sans', sans-serif">)</tspan>
     </text>
    </g>
   </g>
  </g>
 </g>
 <defs>
  <clipPath id="p52427358c7">
   <rect x="47.134884" y="12.893023" width="362.093023" height="291.809302"/>
  </clipPath>
  <clipPath id="pfc388032bf">
   <rect x="0" y="0" width="460.465116" height="344.930233"/>
  </clipPath>
 </defs>
</svg>

</body></html>
